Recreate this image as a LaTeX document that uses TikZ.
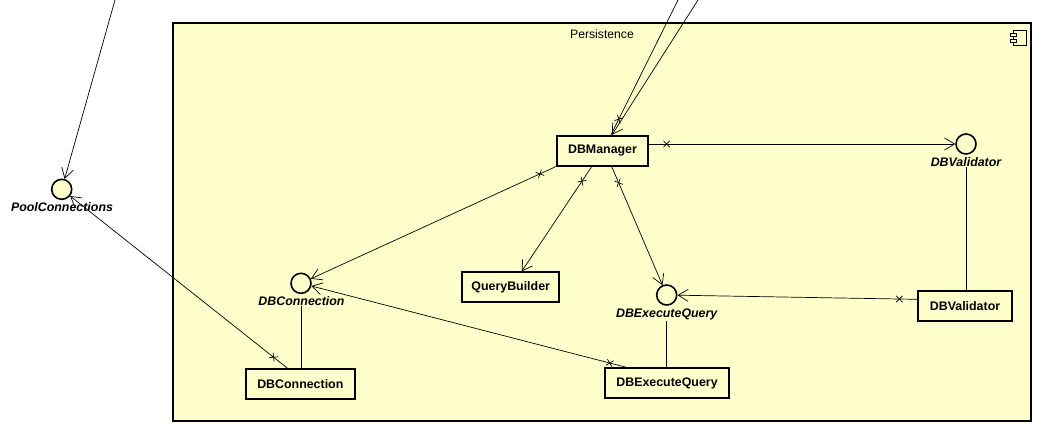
\documentclass[tikz,border=0pt]{standalone}
\usepackage{fontspec}
\setmainfont{Liberation Sans}
\usetikzlibrary{arrows.meta,decorations.markings}
\definecolor{pkgfill}{RGB}{255,255,204}
\tikzset{
 boxnode/.style={draw, line width=1.8pt, fill=pkgfill, inner sep=0pt, font=\fontsize{12.4}{14}\selectfont\bfseries, minimum height=30pt},
 ifc/.style={circle, draw, line width=1.6pt, fill=pkgfill, minimum size=20pt, inner sep=0pt},
 ifclabel/.style={font=\fontsize{12.4}{14}\selectfont\bfseries\itshape, inner sep=1pt},
 conn/.style={line width=0.7pt},
 arr/.style={conn, -{Straight Barb[length=10pt,width=12pt]}},
 xsrc/.style={postaction={decorate, decoration={markings, mark=at position 17.5pt with {\draw[-, line width=0.7pt] (-3.2pt,-3.2pt)--(3.2pt,3.2pt) (-3.2pt,3.2pt)--(3.2pt,-3.2pt);}}}},
}
\begin{document}
\begin{tikzpicture}[x=1pt,y=-1pt]
\useasboundingbox (0,0) rectangle (1051,440);
% package frame
\node[draw, line width=2pt, fill=pkgfill, minimum width=858pt, minimum height=398pt, inner sep=0pt] (pkg) at (602,222) {};
\node[font=\fontsize{12.2}{14}\selectfont, inner sep=0pt] (ptitle) at (602,34.3) {Persistence};
% component icon
\draw[line width=0.9pt, fill=pkgfill] (1013,30) rectangle (1026,45);
\draw[line width=0.9pt, fill=pkgfill] (1010.5,33.5) rectangle (1016,36.8);
\draw[line width=0.9pt, fill=pkgfill] (1010.5,39) rectangle (1016,42.3);
% boxes
\node[boxnode, minimum width=91.6pt] (dbm) at (602.5,150.7) {DBManager};
\node[boxnode, minimum width=96.7pt] (qb) at (510.7,287.3) {QueryBuilder};
\node[boxnode, minimum width=109.3pt] (dbcbox) at (300.3,384) {DBConnection};
\node[boxnode, minimum width=124pt] (dbeqbox) at (667,383.3) {DBExecuteQuery};
\node[boxnode, minimum width=94.6pt] (dbvbox) at (965,305.8) {DBValidator};
% interfaces
\node[ifc] (ipool) at (61.7,189.3) {};
\node[ifclabel] (lpool) at (62,207.3) {PoolConnections};
\node[ifc] (idbc) at (301,283.3) {};
\node[ifclabel] (ldbc) at (301.5,300.7) {DBConnection};
\node[ifc] (ieq) at (666.7,295) {};
\node[ifclabel] (leq) at (666.7,314.5) {DBExecuteQuery};
\node[ifc] (ival) at (966,144) {};
\node[ifclabel] (lval) at (966,161.7) {DBValidator};
% free ends
\coordinate (topa) at (678,0);
\coordinate (topb) at (698,0);
\coordinate (topc) at (115,0);
% realizations
\draw[conn] (ldbc.south) -- (ldbc.south |- dbcbox.north);
\draw[conn] (leq.south) -- (leq.south |- dbeqbox.north);
\draw[conn] (lval.south) -- (lval.south |- dbvbox.north);
% dependencies
\draw[conn, xsrc] ([xshift=8.5pt]dbm.north) -- (topa);
\draw[arr] (topb) -- ([xshift=9.5pt]dbm.north);
\draw[arr] (topc) -- (ipool);
\draw[arr, xsrc] ([xshift=-13pt]dbcbox.north) -- (ipool);
\draw[arr, xsrc] (dbm.south west) -- (idbc);
\draw[arr, xsrc] ([xshift=-10.8pt]dbm.south) -- ([xshift=11pt]qb.north);
\draw[arr, xsrc] ([xshift=9.2pt]dbm.south) -- (ieq);
\draw[arr, xsrc] (dbm.east |- ival) -- (ival);
\draw[arr, xsrc] ([yshift=6.5pt]dbvbox.west) -- (ieq);
\draw[arr, xsrc] ([xshift=-40.3pt]dbeqbox.north) -- (idbc);
\end{tikzpicture}
\end{document}
